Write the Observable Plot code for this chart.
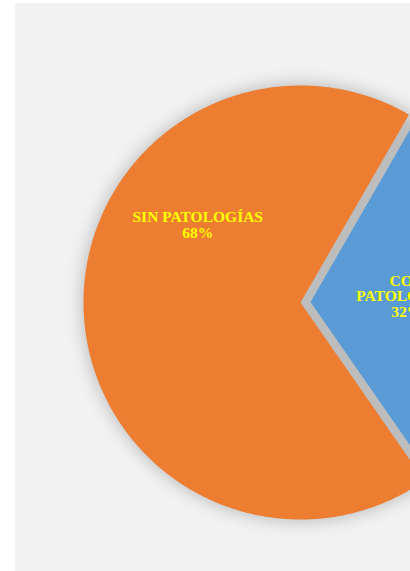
<!DOCTYPE html>
<html>
<head>
<meta charset="utf-8">
<script src="https://cdn.jsdelivr.net/npm/d3@7"></script>
<script src="https://cdn.jsdelivr.net/npm/@observablehq/plot@0.6"></script>
<style>
  html, body { margin: 0; padding: 0; background: #ffffff; width: 410px; height: 571px; overflow: hidden; }
  #panel { position: absolute; left: 15px; top: 3px; width: 395px; height: 568px; background: #f2f2f2; overflow: hidden; }
  #panel g[aria-label="dot"] { filter: blur(8px); }
</style>
</head>
<body>
<div id="panel"></div>
<script>
// ---- data ----
const categories = ["SIN PATOLOGÍAS", "CON PATOLOGÍAS"];
const values = [68, 32];
const percentLabels = ["68%", "32%"];
const labelLines = [["SIN PATOLOGÍAS"], ["CON", "PATOLOGÍAS"]];

// ---- layout / style ----
const colors = ["#ED7D31", "#5B9BD5"];
const W = 395, H = 568;
const cx = 285, cy = 299, R = 217;          // pie centre and radius in px
const startDeg = 145.2;                      // first slice start angle
const explodePx = [0, 10];                   // explode per slice
const labelPolar = [                         // [angle deg, radius fraction]
  [307, 0.593],
  [86.7, 0.49]
];

const rad = d => d * Math.PI / 180;
const arcs = d3.pie().sort(null)
  .startAngle(rad(startDeg)).endAngle(rad(startDeg + 360))(values);

const pts = [];
arcs.forEach((a, i) => {
  const mid = (a.startAngle + a.endAngle) / 2;
  const e = explodePx[i] / R;
  const ox = e * Math.sin(mid), oy = e * Math.cos(mid);
  pts.push({cat: categories[i], x: ox, y: oy});
  const n = Math.ceil((a.endAngle - a.startAngle) / rad(0.5));
  for (let k = 0; k <= n; k++) {
    const t = a.startAngle + (a.endAngle - a.startAngle) * k / n;
    pts.push({cat: categories[i], x: ox + Math.sin(t), y: oy + Math.cos(t)});
  }
});

const labels = categories.map((c, i) => ({
  text: [...labelLines[i], percentLabels[i]].join("\n"),
  x: labelPolar[i][1] * Math.sin(rad(labelPolar[i][0])),
  y: labelPolar[i][1] * Math.cos(rad(labelPolar[i][0]))
}));

const chart = Plot.plot({
  width: W,
  height: H,
  margin: 0,
  style: {background: "transparent", overflow: "visible"},
  x: {domain: [-1, 1], range: [cx - R, cx + R], axis: null},
  y: {domain: [-1, 1], range: [cy + R, cy - R], axis: null},
  color: {domain: categories, range: colors},
  marks: [
    Plot.dot([{x: 0, y: 0}], {x: "x", y: "y", r: R + 2, fill: "#bdbdbd", stroke: null}),
    Plot.line(pts, {x: "x", y: "y", z: "cat", fill: "cat", stroke: null, curve: "linear-closed"}),
    Plot.text(labels, {
      x: "x", y: "y", text: "text",
      fill: "#FFFF00", fontSize: 15.5, fontWeight: "bold",
      fontFamily: "'Liberation Serif', 'Times New Roman', serif",
      lineHeight: 1, textAnchor: "middle", lineAnchor: "middle"
    })
  ]
});
document.getElementById("panel").appendChild(chart);
</script>
</body>
</html>
